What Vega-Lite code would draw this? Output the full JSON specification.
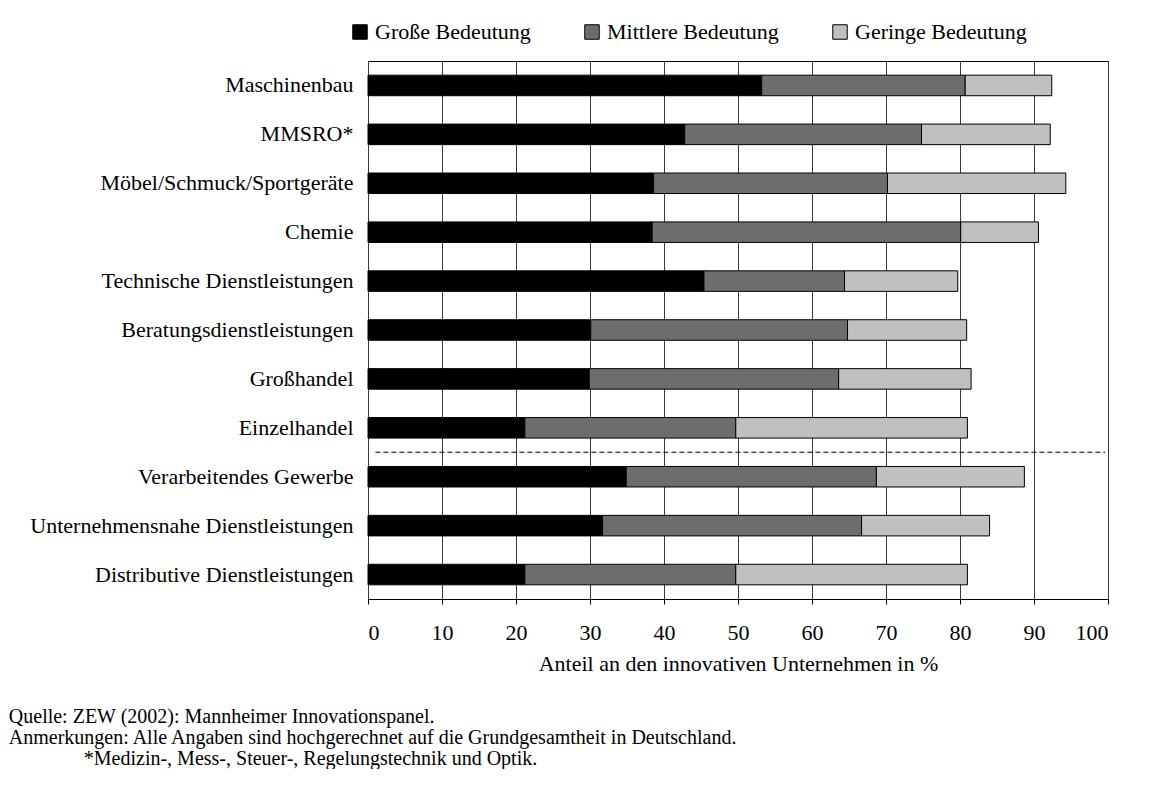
{
  "$schema": "https://vega.github.io/schema/vega-lite/v6.json",
  "background": "#ffffff",
  "padding": {"left": 8, "right": 0, "top": 21, "bottom": 0},
  "config": {"font": "Liberation Serif"},
  "width": 740,
  "height": 538,
  "view": {"stroke": "black", "strokeWidth": 1},
  "title": {
    "text": [
      "Quelle: ZEW (2002): Mannheimer Innovationspanel.",
      "Anmerkungen: Alle Angaben sind hochgerechnet auf die Grundgesamtheit in Deutschland.",
      "\u200b\u00a0\u00a0\u00a0\u00a0\u00a0\u00a0\u00a0\u00a0\u00a0\u00a0\u00a0\u00a0\u00a0\u00a0\u00a0*Medizin-, Mess-, Steuer-, Regelungstechnik und Optik."
    ],
    "orient": "bottom",
    "anchor": "start",
    "frame": "bounds",
    "dx": -21,
    "offset": 33,
    "fontSize": 20,
    "fontWeight": "normal",
    "lineHeight": 21,
    "color": "black"
  },
  "datasets": {
    "bars": [
      {"Branche": "Maschinenbau", "Bedeutung": "Große Bedeutung", "Rang": 1, "Anteil": 53.2},
      {"Branche": "Maschinenbau", "Bedeutung": "Mittlere Bedeutung", "Rang": 2, "Anteil": 27.5},
      {"Branche": "Maschinenbau", "Bedeutung": "Geringe Bedeutung", "Rang": 3, "Anteil": 11.7},
      {"Branche": "MMSRO*", "Bedeutung": "Große Bedeutung", "Rang": 1, "Anteil": 42.8},
      {"Branche": "MMSRO*", "Bedeutung": "Mittlere Bedeutung", "Rang": 2, "Anteil": 32.0},
      {"Branche": "MMSRO*", "Bedeutung": "Geringe Bedeutung", "Rang": 3, "Anteil": 17.4},
      {"Branche": "Möbel/Schmuck/Sportgeräte", "Bedeutung": "Große Bedeutung", "Rang": 1, "Anteil": 38.6},
      {"Branche": "Möbel/Schmuck/Sportgeräte", "Bedeutung": "Mittlere Bedeutung", "Rang": 2, "Anteil": 31.6},
      {"Branche": "Möbel/Schmuck/Sportgeräte", "Bedeutung": "Geringe Bedeutung", "Rang": 3, "Anteil": 24.1},
      {"Branche": "Chemie", "Bedeutung": "Große Bedeutung", "Rang": 1, "Anteil": 38.4},
      {"Branche": "Chemie", "Bedeutung": "Mittlere Bedeutung", "Rang": 2, "Anteil": 41.7},
      {"Branche": "Chemie", "Bedeutung": "Geringe Bedeutung", "Rang": 3, "Anteil": 10.5},
      {"Branche": "Technische Dienstleistungen", "Bedeutung": "Große Bedeutung", "Rang": 1, "Anteil": 45.4},
      {"Branche": "Technische Dienstleistungen", "Bedeutung": "Mittlere Bedeutung", "Rang": 2, "Anteil": 19.0},
      {"Branche": "Technische Dienstleistungen", "Bedeutung": "Geringe Bedeutung", "Rang": 3, "Anteil": 15.3},
      {"Branche": "Beratungsdienstleistungen", "Bedeutung": "Große Bedeutung", "Rang": 1, "Anteil": 30.1},
      {"Branche": "Beratungsdienstleistungen", "Bedeutung": "Mittlere Bedeutung", "Rang": 2, "Anteil": 34.7},
      {"Branche": "Beratungsdienstleistungen", "Bedeutung": "Geringe Bedeutung", "Rang": 3, "Anteil": 16.1},
      {"Branche": "Großhandel", "Bedeutung": "Große Bedeutung", "Rang": 1, "Anteil": 29.9},
      {"Branche": "Großhandel", "Bedeutung": "Mittlere Bedeutung", "Rang": 2, "Anteil": 33.7},
      {"Branche": "Großhandel", "Bedeutung": "Geringe Bedeutung", "Rang": 3, "Anteil": 17.9},
      {"Branche": "Einzelhandel", "Bedeutung": "Große Bedeutung", "Rang": 1, "Anteil": 21.2},
      {"Branche": "Einzelhandel", "Bedeutung": "Mittlere Bedeutung", "Rang": 2, "Anteil": 28.5},
      {"Branche": "Einzelhandel", "Bedeutung": "Geringe Bedeutung", "Rang": 3, "Anteil": 31.3},
      {"Branche": "Verarbeitendes Gewerbe", "Bedeutung": "Große Bedeutung", "Rang": 1, "Anteil": 34.9},
      {"Branche": "Verarbeitendes Gewerbe", "Bedeutung": "Mittlere Bedeutung", "Rang": 2, "Anteil": 33.8},
      {"Branche": "Verarbeitendes Gewerbe", "Bedeutung": "Geringe Bedeutung", "Rang": 3, "Anteil": 20.0},
      {"Branche": "Unternehmensnahe Dienstleistungen", "Bedeutung": "Große Bedeutung", "Rang": 1, "Anteil": 31.7},
      {"Branche": "Unternehmensnahe Dienstleistungen", "Bedeutung": "Mittlere Bedeutung", "Rang": 2, "Anteil": 35.0},
      {"Branche": "Unternehmensnahe Dienstleistungen", "Bedeutung": "Geringe Bedeutung", "Rang": 3, "Anteil": 17.3},
      {"Branche": "Distributive Dienstleistungen", "Bedeutung": "Große Bedeutung", "Rang": 1, "Anteil": 21.2},
      {"Branche": "Distributive Dienstleistungen", "Bedeutung": "Mittlere Bedeutung", "Rang": 2, "Anteil": 28.5},
      {"Branche": "Distributive Dienstleistungen", "Bedeutung": "Geringe Bedeutung", "Rang": 3, "Anteil": 31.3}
    ]
  },
  "layer": [
    {
      "data": {"name": "bars"},
      "mark": {"type": "bar", "stroke": "black", "strokeWidth": 1, "height": {"band": 0.42}},
      "encoding": {
        "y": {
          "field": "Branche", "type": "nominal", "sort": null,
          "scale": {"paddingInner": 0, "paddingOuter": 0},
          "axis": {"title": null, "labelFontSize": 22, "labelColor": "black", "ticks": false, "domain": false, "labelPadding": 15, "labelLimit": 0}
        },
        "x": {
          "field": "Anteil", "type": "quantitative", "stack": "zero",
          "scale": {"domain": [0, 100], "nice": false},
          "axis": {
            "values": [0, 10, 20, 30, 40, 50, 60, 70, 80, 90, 100],
            "title": "Anteil an den innovativen Unternehmen in %",
            "grid": true, "gridColor": "#3a3a3a", "gridWidth": 1,
            "domain": false, "tickColor": "black", "tickSize": 5,
            "labelFontSize": 22, "labelColor": "black", "labelPadding": 18,
            "titleFontSize": 22, "titleFontWeight": "normal", "titleColor": "black", "titlePadding": 10
          }
        },
        "order": {"field": "Rang", "type": "quantitative", "sort": "ascending"},
        "color": {
          "field": "Bedeutung", "type": "nominal",
          "sort": ["Große Bedeutung", "Mittlere Bedeutung", "Geringe Bedeutung"],
          "scale": {"domain": ["Große Bedeutung", "Mittlere Bedeutung", "Geringe Bedeutung"], "range": ["#000000", "#6d6d6d", "#c0c0c0"]},
          "legend": {
            "title": null, "orient": "none", "legendX": -19, "legendY": -40,
            "direction": "horizontal", "columns": 3, "gridAlign": "none", "columnPadding": 50,
            "padding": 0, "symbolType": "square", "symbolSize": 210,
            "symbolStrokeColor": "black", "symbolStrokeWidth": 1,
            "labelFontSize": 22, "labelColor": "black", "labelOffset": 4, "labelLimit": 0
          }
        }
      }
    },
    {
      "data": {"values": [{}]},
      "mark": {"type": "rule", "strokeDash": [5, 3], "color": "black", "strokeWidth": 1},
      "encoding": {
        "y": {"datum": "Verarbeitendes Gewerbe", "type": "nominal", "bandPosition": 0},
        "x": {"datum": 1},
        "x2": {"datum": 99.6}
      }
    }
  ]
}
